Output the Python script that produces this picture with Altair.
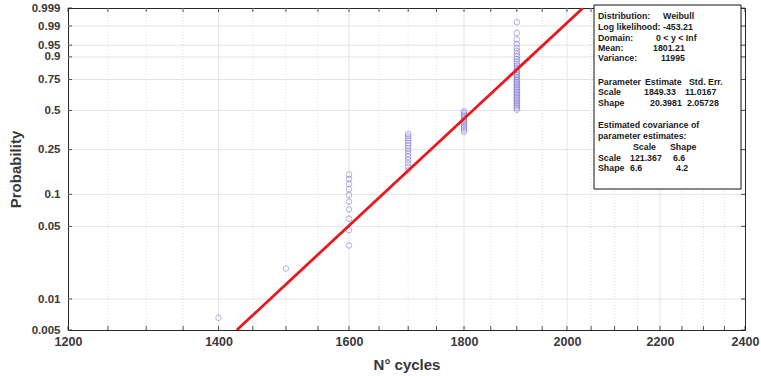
import altair as alt
import numpy as np
import pandas as pd

# ---- data ----
cycle_values = [1400, 1500, 1600, 1700, 1800, 1900]
cycle_counts = [1, 1, 10, 14, 12, 38]

# fitted Weibull line (end points where it leaves the plot)
fit_cycles = [1426.5, 2033.1]
fit_prob = [0.005, 0.999]

prob_ticks = [0.005, 0.01, 0.05, 0.1, 0.25, 0.5, 0.75, 0.9, 0.95, 0.99, 0.999]
prob_labels = ["0.005", "0.01", "0.05", "0.1", "0.25", "0.5", "0.75", "0.9", "0.95", "0.99", "0.999"]
x_major = [1200, 1400, 1600, 1800, 2000, 2200, 2400]
x_minor = [1250, 1300, 1350, 1450, 1500, 1550, 1650, 1700, 1750, 1850, 1900, 1950,
           2050, 2100, 2150, 2250, 2300, 2350]

info_text = [
    "Distribution:", "Weibull",
    "Log likelihood:", "-453.21",
    "Domain:", "0 < y < Inf",
    "Mean:", "1801.21",
    "Variance:", "11995",
    "Parameter", "Estimate", "Std. Err.",
    "Scale", "1849.33", "11.0167",
    "Shape", "20.3981", "2.05728",
    "Estimated covariance of",
    "parameter estimates:",
    "Scale", "Shape",
    "Scale", "121.367", "6.6",
    "Shape", "6.6", "4.2",
]
# pixel positions (image coords) of each text piece
info_x = [598, 663, 598, 663, 598, 656, 598, 653, 598, 661,
          598, 645, 689, 598, 644, 685, 598, 650, 687,
          598, 598, 633, 670, 598, 630, 673, 598, 630, 676]
info_y = [16, 16, 27, 27, 38, 38, 48, 48, 58, 58,
          82, 82, 82, 92, 92, 92, 103, 103, 103,
          125, 136, 147, 147, 158, 158, 158, 168, 168, 168]

# ---- layout ----
W, H = 677, 322
LEFT, TOP = 68, 8
FONT = "Liberation Sans"
TXT = "#262626"
LAB = "#383838"


def wz(p):
    p = np.asarray(p, dtype=float)
    return np.log(-np.log(1 - p))


obs = np.repeat(cycle_values, cycle_counts)
n = len(obs)
ranks = np.arange(1, n + 1)
pts = pd.DataFrame({"cycles": obs, "z": wz((ranks - 0.5) / n)})
line_df = pd.DataFrame({"cycles": fit_cycles, "z": wz(fit_prob)})

zt = wz(prob_ticks)
zmin, zmax = float(zt[0]), float(zt[-1])

xscale = alt.Scale(type="log", domain=[1200, 2400], nice=False, zero=False)
yscale = alt.Scale(domain=[zmin, zmax], nice=False, zero=False)

# label expression for probability axis
expr = "''"
for zv, lab in zip(reversed(list(zt)), reversed(prob_labels)):
    expr = f"abs(datum.value - ({zv:.6f})) < 0.001 ? '{lab}' : ({expr})"

x_axis = alt.Axis(values=x_major, format="d", title="N° cycles", grid=False, ticks=False,
                  domain=False, labelPadding=5, labelFontSize=12.5,
                  labelFontWeight="bold", labelColor=LAB,
                  labelFont=FONT, titleFont=FONT, titleFontSize=15,
                  titleFontWeight="bold", titleColor=LAB,
                  titleBaseline="middle", titleY=34, labelFlush=False)
y_axis = alt.Axis(values=[float(v) for v in zt], labelExpr=expr,
                  title="Probability", grid=False, ticks=False, domain=False,
                  labelPadding=8, labelFontSize=11.5, labelFontWeight="bold",
                  labelColor=LAB, labelFont=FONT, titleFont=FONT,
                  titleFontSize=15, titleFontWeight="bold", titleColor=LAB,
                  titleX=-53, titleY=H / 2, titleAngle=270, titleAlign="center",
                  titleBaseline="middle", labelFlush=False, labelOverlap=False)


def X(f):
    return alt.X(f"{f}:Q", scale=xscale, axis=x_axis)


def Y(f):
    return alt.Y(f"{f}:Q", scale=yscale, axis=y_axis)


grid_minor = alt.Chart(pd.DataFrame({"x": x_minor})).mark_rule(
    color="#d4d4d4", strokeWidth=0.8, strokeDash=[1, 2]
).encode(x=X("x"))

grid_major = alt.Chart(pd.DataFrame({"x": x_major[1:-1]})).mark_rule(
    color="#e3e3e3", strokeWidth=1
).encode(x=X("x"))

grid_h = alt.Chart(pd.DataFrame({"z": zt[1:-1]})).mark_rule(
    color="#e3e3e3", strokeWidth=1
).encode(y=Y("z"))

xt = pd.DataFrame({"x": x_major + x_minor})
tick_b = alt.Chart(xt).mark_rule(color=TXT, strokeWidth=0.8).encode(
    x=X("x"), y=alt.value(H), y2=alt.value(H - 4))
tick_t = alt.Chart(xt).mark_rule(color=TXT, strokeWidth=0.8).encode(
    x=X("x"), y=alt.value(0), y2=alt.value(4))
yt = pd.DataFrame({"z": zt})
tick_l = alt.Chart(yt).mark_rule(color=TXT, strokeWidth=0.8).encode(
    y=Y("z"), x=alt.value(0), x2=alt.value(4))
tick_r = alt.Chart(yt).mark_rule(color=TXT, strokeWidth=0.8).encode(
    y=Y("z"), x=alt.value(W), x2=alt.value(W - 4))

points = alt.Chart(pts).mark_point(
    shape="circle", filled=False, size=32, strokeWidth=0.8, color="#7b72d6"
).encode(x=X("cycles"), y=Y("z"))

fit = alt.Chart(line_df).mark_line(color="#e8191e", strokeWidth=2.8, clip=True).encode(
    x=X("cycles"), y=Y("z"))

one = pd.DataFrame({"a": [0]})
box = alt.Chart(one).mark_rect(fill="white", stroke="#111111", strokeWidth=1).encode(
    x=alt.value(594 - LEFT), x2=alt.value(741 - LEFT),
    y=alt.value(5 - TOP), y2=alt.value(189 - TOP),
)

texts = []
for t, xi, yi in zip(info_text, info_x, info_y):
    texts.append(
        alt.Chart(one).mark_text(
            align="left", baseline="middle", font=FONT, fontSize=8.8,
            fontWeight="bold", color="#1a1a1a"
        ).encode(x=alt.value(xi - LEFT), y=alt.value(yi - TOP), text=alt.value(t))
    )

chart = alt.layer(
    grid_minor, grid_major, grid_h, tick_b, tick_t, tick_l, tick_r,
    points, fit, box, *texts
).properties(
    width=W, height=H,
    autosize=alt.AutoSizeParams(type="none"),
    padding={"left": LEFT, "top": TOP, "right": 761 - LEFT - W, "bottom": 376 - TOP - H},
    background="white",
).configure_view(stroke="#262626", strokeWidth=1)

chart.save("out.html", embed_options={"renderer": "svg", "actions": False})
